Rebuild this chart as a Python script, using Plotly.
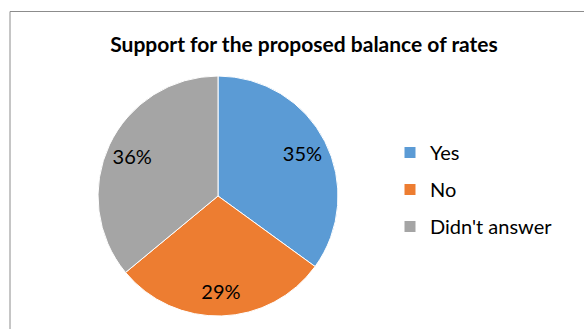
import plotly.graph_objects as go

categories = ["Yes", "No", "Didn't answer"]
values = [35, 29, 36]
colors = ["#5B9BD5", "#ED7D31", "#A5A5A5"]
title = "Support for the proposed balance of rates"

W, H = 584, 329
FONT = "Lato, 'Open Sans', sans-serif"
dom = dict(x=[98 / W, 338 / W], y=[1 - 316 / H, 1 - 76 / H])

fig = go.Figure()
# full pie (fills the disc)
fig.add_trace(go.Pie(
    labels=categories, values=values, sort=False, direction="clockwise", rotation=0,
    marker=dict(colors=colors, line=dict(color="white", width=1)),
    textinfo="none", showlegend=False, hoverinfo="label+percent", domain=dom,
))
# transparent ring on top, only carrying the percentage labels further out
fig.add_trace(go.Pie(
    labels=categories, values=values, sort=False, direction="clockwise", rotation=0,
    hole=0.58,
    marker=dict(colors=["rgba(0,0,0,0)"] * len(categories), line=dict(width=0)),
    textinfo="percent", textposition="inside", insidetextorientation="horizontal",
    textfont=dict(size=20, color="#000000", family=FONT),
    showlegend=False, hoverinfo="skip", domain=dom,
))
for cat, col in zip(categories, colors):
    fig.add_trace(go.Scatter(
        x=[None], y=[None], mode="markers", name=cat,
        marker=dict(symbol="square", size=11, color=col),
        legendgroup=cat, showlegend=True,
    ))

fig.add_shape(type="rect", xref="paper", yref="paper",
              x0=10 / W, x1=1.05, y0=-0.05, y1=1 - 11.5 / H,
              line=dict(color="#8C8C8C", width=1), fillcolor="rgba(0,0,0,0)")

fig.update_layout(
    width=W, height=H,
    margin=dict(l=0, r=0, t=0, b=0),
    paper_bgcolor="white", plot_bgcolor="white",
    title=dict(text="<b>" + title + "</b>", x=304 / W, xanchor="center",
               y=1 - 45 / H, yanchor="middle",
               font=dict(size=21, color="#000000", family=FONT)),
    xaxis=dict(visible=False), yaxis=dict(visible=False),
    legend=dict(x=390 / W, y=1 - 133 / H, xanchor="left", yanchor="top",
                font=dict(size=20, color="#000000", family=FONT),
                tracegroupgap=8, bgcolor="rgba(0,0,0,0)"),
)
fig.write_html("out.html")
